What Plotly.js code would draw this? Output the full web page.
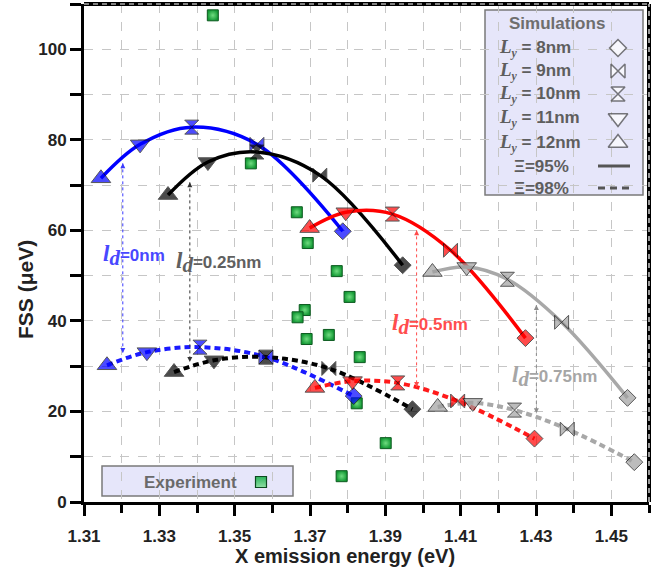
<!DOCTYPE html>
<html>
<head>
<meta charset="utf-8">
<script src="https://cdn.plot.ly/plotly-3.0.1.min.js"></script>
<style>html,body{margin:0;padding:0;background:#fff}#chart{width:666px;height:569px}</style>
</head>
<body>
<div id="chart"></div>
<script>
// ---- Data (order within each series: Ly = 12, 11, 10, 9, 8 nm) ----
const lyValues = [12, 11, 10, 9, 8];

const blue95X = [1.3145, 1.3249, 1.3386, 1.3559, 1.3787];
const blue95Y = [71.5, 79.0, 82.8, 79.0, 59.8];
const blue98X = [1.3161, 1.3267, 1.3408, 1.3583, 1.3816];
const blue98Y = [30.2, 33.1, 34.2, 32.0, 23.4];

const black95X = [1.3323, 1.3429, 1.3559, 1.3726, 1.3946];
const black95Y = [67.8, 75.1, 77.3, 72.2, 52.3];
const black98X = [1.3339, 1.3445, 1.3583, 1.3750, 1.3972];
const black98Y = [28.7, 31.3, 32.0, 29.5, 20.5];

const red95X = [1.3699, 1.3795, 1.3919, 1.4073, 1.4272];
const red95Y = [60.5, 64.0, 63.6, 55.6, 36.2];
const red98X = [1.3713, 1.3813, 1.3933, 1.4092, 1.4296];
const red98Y = [25.2, 26.7, 26.3, 22.3, 14.0];

const gray95X = [1.4025, 1.4116, 1.4224, 1.4368, 1.4543];
const gray95Y = [50.8, 51.9, 49.2, 39.7, 23.0];
const gray98X = [1.4039, 1.4132, 1.4243, 1.4383, 1.4561];
const gray98Y = [21.0, 21.9, 20.3, 16.1, 8.8];

const expX = [1.3442, 1.3543, 1.3665, 1.3694, 1.3771, 1.3805, 1.3686, 1.3667, 1.3691, 1.3750, 1.3832, 1.3824, 1.3901, 1.3784];
const expY = [107.5, 74.8, 64.0, 57.2, 51.0, 45.3, 42.4, 40.8, 36.0, 36.9, 32.0, 21.8, 13.0, 5.7];

// l_d arrows: x, top y (Xi=95%), bottom y (Xi=98%)
const ldLabels = ['0nm', '0.25nm', '0.5nm', '0.75nm'];
const arrowX = [1.3203, 1.3381, 1.3983, 1.4301];
const arrowTop = [74.8, 70.6, 60.0, 43.5];
const arrowBottom = [32.9, 30.9, 25.4, 19.6];
const ldLabelX = [1.3232, 1.3457, 1.4018, 1.4350];
const ldLabelY = [54.5, 52.8, 39.3, 27.8];

const legendSizes = ['8nm', '9nm', '10nm', '11nm', '12nm'];
const legendXi = ['Ξ=95%', 'Ξ=98%'];

// ---- Styling ----
const symbols = ['triangle-up', 'triangle-down', 'hourglass', 'bowtie', 'diamond'];
const symSizes = [17, 17, 14, 14, 13];
const SANS = 'Liberation Sans, Arial, sans-serif';
const SERIF = 'Liberation Serif, Times New Roman, serif';

const px = x => (x - 84) / 565;
const py = y => (502 - y) / 498;

const traces = [];

// experiment points (underneath)
traces.push({
  x: expX, y: expY, mode: 'markers', type: 'scatter', showlegend: false, hoverinfo: 'skip',
  marker: {symbol: 'square', size: 11, color: '#159a36', line: {color: '#0c5a1f', width: 1},
           gradient: {type: 'radial', color: '#6fdc80'}}
});

const series = [
  {x: blue95X, y: blue95Y, c: '#0000ff', lc: '#0000ff', dash: 'solid'},
  {x: blue98X, y: blue98Y, c: '#0000ff', lc: '#1a1aff', dash: '6px,4px'},
  {x: black95X, y: black95Y, c: '#000000', lc: '#000000', dash: 'solid'},
  {x: black98X, y: black98Y, c: '#000000', lc: '#000000', dash: '6px,4px'},
  {x: red95X, y: red95Y, c: '#ff0000', lc: '#ff0000', dash: 'solid'},
  {x: red98X, y: red98Y, c: '#ff0000', lc: '#ff1a1a', dash: '6px,4px'},
  {x: gray95X, y: gray95Y, c: '#a0a0a0', lc: '#a8a8a8', dash: 'solid'},
  {x: gray98X, y: gray98Y, c: '#a0a0a0', lc: '#a8a8a8', dash: '6px,4px'}
];

// lines
series.forEach(s => {
  traces.push({
    x: s.x, y: s.y, type: 'scatter', mode: 'lines', showlegend: false, hoverinfo: 'skip',
    line: {color: s.lc, width: s.dash === 'solid' ? 3.5 : 4, shape: 'spline', smoothing: 1, dash: s.dash}
  });
});

// arrows (dotted, double-headed)
const arrowColors = ['#3a3aff', '#333333', '#ff4a4a', '#8c8c8c'];
arrowX.forEach((ax, i) => {
  traces.push({
    x: [ax, ax], y: [arrowTop[i], arrowBottom[i]], type: 'scatter', mode: 'lines+markers',
    showlegend: false, hoverinfo: 'skip',
    line: {color: arrowColors[i], width: 1, dash: 'dot'},
    marker: {symbol: ['arrow-up', 'arrow-down'], size: 5, color: arrowColors[i], line: {width: 0}}
  });
});

// markers
series.forEach(s => {
  traces.push({
    x: s.x, y: s.y, type: 'scatter', mode: 'markers', showlegend: false, hoverinfo: 'skip',
    marker: {symbol: symbols, size: symSizes, color: s.c, line: {color: '#111', width: 1}}
  });
});

// legend symbols on overlay axes (paper-like coordinates)
const legSymOrder = ['diamond', 'bowtie', 'hourglass', 'triangle-down', 'triangle-up'];
const legRowsY = [48, 71, 94, 118, 143];
traces.push({
  x: legRowsY.map(() => px(618)), y: legRowsY.map(py), xaxis: 'x2', yaxis: 'y2',
  type: 'scatter', mode: 'markers', showlegend: false, hoverinfo: 'skip',
  marker: {symbol: legSymOrder, size: [13, 14, 14, 17, 17], color: '#ffffff', line: {color: '#444', width: 1.5}}
});
traces.push({
  x: [px(261)], y: [py(482)], xaxis: 'x2', yaxis: 'y2',
  type: 'scatter', mode: 'markers', showlegend: false, hoverinfo: 'skip',
  marker: {symbol: 'square', size: 11, color: '#2bb35a', line: {color: '#0c4a1f', width: 1.2},
           gradient: {type: 'vertical', color: '#8fe0a5'}}
});

const annotations = [];
const ldColors = ['#4848ff', '#606060', '#ff4d4d', '#a6a6a6'];
ldLabels.forEach((t, i) => {
  annotations.push({
    x: ldLabelX[i], y: ldLabelY[i], xref: 'x', yref: 'y', showarrow: false, xanchor: 'center', yanchor: 'middle',
    text: `<span style="font-family:${SERIF};font-style:italic;font-size:23px">l</span><sub><span style="font-family:${SERIF};font-style:italic;font-size:21px">d</span></sub>=${t}`,
    font: {family: SANS, size: 17, color: ldColors[i], weight: 'bold'}
  });
});

function paperText(x, y, text, opts) {
  annotations.push(Object.assign({x: px(x), y: py(y), xref: 'paper', yref: 'paper', showarrow: false,
    xanchor: 'center', yanchor: 'middle', text: text}, opts));
}
const legFont = {family: SANS, size: 17, color: '#5e5e5e', weight: 'bold'};
paperText(557, 23, 'Simulations', {font: {family: SANS, size: 17, color: '#6e6e6e', weight: 'bold'}});
legendSizes.forEach((t, i) => {
  paperText(497, legRowsY[i],
    `<span style="font-family:${SERIF};font-style:italic;font-size:19px">L</span><sub><span style="font-family:${SERIF};font-style:italic">y</span></sub> = ${t}`,
    {xanchor: 'left', font: legFont});
});
[166, 188].forEach((yy, i) => paperText(541, yy, legendXi[i], {font: legFont}));
paperText(190, 482, 'Experiment', {font: {family: SANS, size: 17, color: '#6a6a6a', weight: 'bold'}});
// axis titles
paperText(345, 556, 'X emission energy (eV)', {font: {family: SANS, size: 20, color: '#222', weight: 'bold'}});
paperText(25, 290, 'FSS (μeV)', {textangle: -90, font: {family: SANS, size: 21, color: '#222', weight: 'bold'}});

const shapes = [
  {type: 'rect', xref: 'paper', yref: 'paper', x0: px(485), x1: px(643), y0: py(195), y1: py(10),
   fillcolor: '#e6e6fa', line: {color: '#7a7a7a', width: 1.5}, layer: 'between'},
  {type: 'rect', xref: 'paper', yref: 'paper', x0: px(102), x1: px(293), y0: py(496), y1: py(466),
   fillcolor: '#e6e6fa', line: {color: '#7a7a7a', width: 1.5}, layer: 'between'},
  {type: 'line', xref: 'paper', yref: 'paper', x0: px(598), x1: px(630), y0: py(166), y1: py(166),
   line: {color: '#555', width: 3}, layer: 'above'},
  {type: 'line', xref: 'paper', yref: 'paper', x0: px(598), x1: px(632), y0: py(188), y1: py(188),
   line: {color: '#555', width: 3, dash: '7px,5px'}, layer: 'above'},
  // top and right frame
  {type: 'line', xref: 'paper', yref: 'paper', x0: 0, x1: 1, y0: 1, y1: 1, line: {color: '#000', width: 4}, layer: 'above'},
  {type: 'line', xref: 'paper', yref: 'paper', x0: 0, x1: 1, y0: 1, y1: 1, line: {color: '#fff', width: 1.2, dash: '5px,4px'}, layer: 'above'},
  {type: 'line', xref: 'paper', yref: 'paper', x0: 1, x1: 1, y0: 0, y1: 1, line: {color: '#000', width: 4}, layer: 'above'},
  {type: 'line', xref: 'paper', yref: 'paper', x0: 1, x1: 1, y0: 0, y1: 1, line: {color: '#fff', width: 1.2, dash: '5px,4px'}, layer: 'above'}
];

const gridColor = '#c6c6c6';
const layout = {
  width: 666, height: 569,
  margin: {l: 84, r: 17, t: 4, b: 67, pad: 0},
  paper_bgcolor: '#ffffff', plot_bgcolor: '#ffffff',
  showlegend: false,
  xaxis: {
    range: [1.31, 1.46], tick0: 1.31, dtick: 0.02, tickformat: '.2f',
    ticks: 'outside', ticklen: 11, tickwidth: 3, tickcolor: '#000', ticklabelstandoff: 6,
    showline: true, linewidth: 3, linecolor: '#000', zeroline: false,
    showgrid: true, gridcolor: gridColor, griddash: 'dash', gridwidth: 1,
    tickfont: {family: SANS, size: 17, color: '#222', weight: 'bold'},
    minor: {tick0: 1.31, dtick: 0.01, ticks: 'outside', ticklen: 8, tickwidth: 3, tickcolor: '#000',
            showgrid: true, gridcolor: gridColor, griddash: 'dash', gridwidth: 1}
  },
  yaxis: {
    range: [0, 110], tick0: 0, dtick: 20,
    ticks: 'outside', ticklen: 11, tickwidth: 3, tickcolor: '#000',
    showline: true, linewidth: 3, linecolor: '#000', zeroline: false,
    showgrid: true, gridcolor: gridColor, griddash: 'dash', gridwidth: 1,
    tickfont: {family: SANS, size: 17, color: '#222', weight: 'bold'},
    minor: {dtick: 10, ticks: 'outside', ticklen: 11, tickwidth: 3, tickcolor: '#000',
            showgrid: true, gridcolor: gridColor, griddash: 'dash', gridwidth: 1}
  },
  xaxis2: {overlaying: 'x', anchor: 'y2', range: [0, 1], visible: false, fixedrange: true},
  yaxis2: {overlaying: 'y', anchor: 'x2', range: [0, 1], visible: false, fixedrange: true},
  shapes: shapes,
  annotations: annotations
};

Plotly.newPlot('chart', traces, layout, {staticPlot: true, displayModeBar: false});
</script>
</body>
</html>
